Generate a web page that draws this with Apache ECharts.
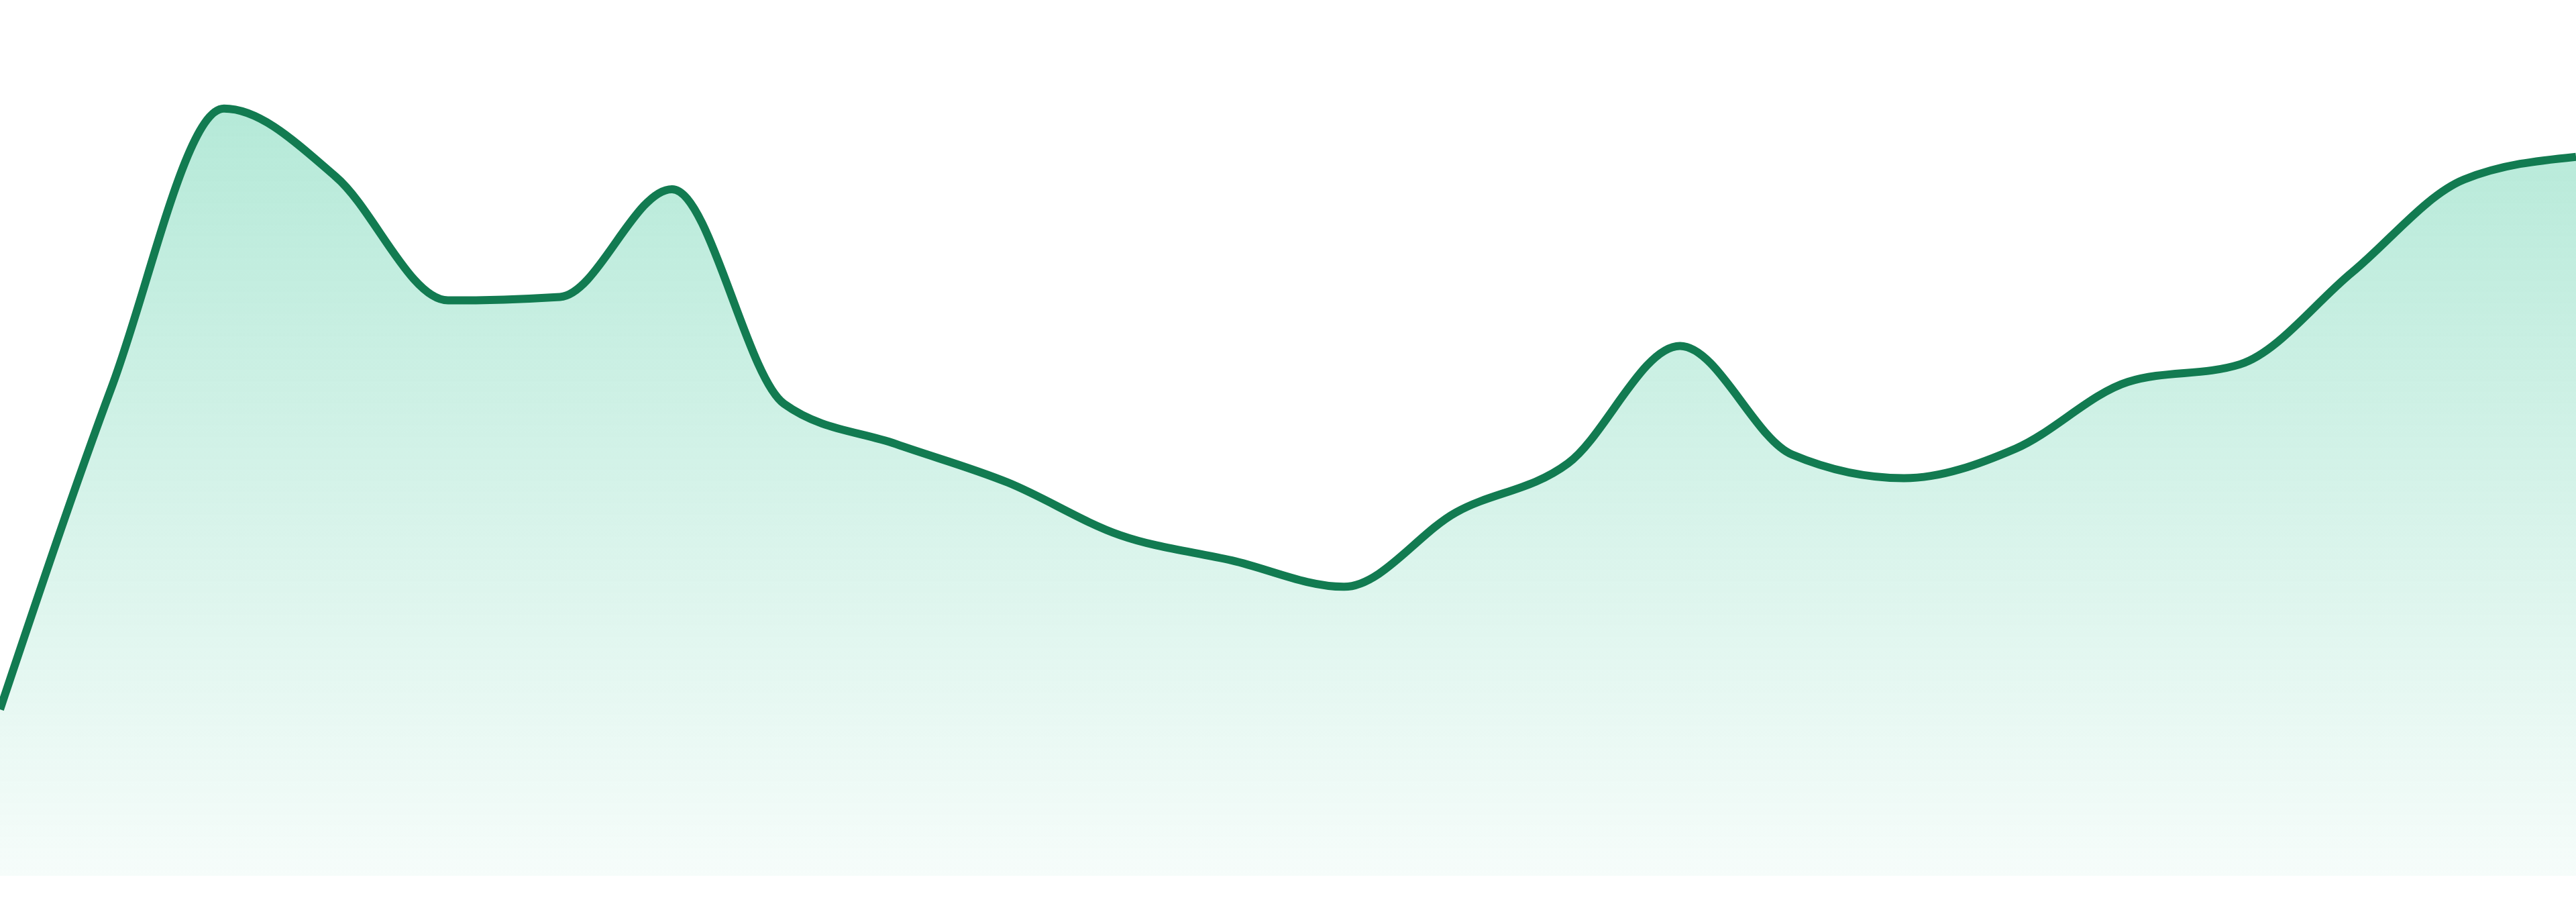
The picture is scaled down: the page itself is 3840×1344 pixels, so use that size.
<!DOCTYPE html>
<html lang="en">
<head>
    <meta charset="UTF-8">
    <title>Area</title>
    <script src="https://cdn.jsdelivr.net/npm/echarts@6/dist/echarts.min.js" charset="utf-8"></script>
    <style>
        html, body {margin: 0; padding: 0; background: #ffffff;}
        #main {width: 3840px; height: 1344px;}
    </style>
</head>
<body>
<div id="main"></div>
<script>
    // 24 points (y axis 0..100)
    var categories = ['1', '2', '3', '4', '5', '6', '7', '8', '9', '10', '11', '12',
        '13', '14', '15', '16', '17', '18', '19', '20', '21', '22', '23', '24'];
    var values = [19.0, 55.9, 87.6, 79.8, 65.7, 66.1, 78.4, 53.9, 49.3, 44.9, 38.9, 36.0,
        33.0, 41.5, 47.1, 60.5, 48.1, 45.4, 48.8, 56.4, 58.4, 68.9, 79.5, 82.1];
    var yMin = 0, yMax = 100;

    // monotone-x cubic (same as d3 curveMonotoneX) through pixel points
    function sign(v) { return v < 0 ? -1 : 1; }
    function monotonePath(pts) {
        var n = pts.length, i, s = [], t = [];
        for (i = 0; i < n - 1; i++) {
            s.push((pts[i + 1][1] - pts[i][1]) / (pts[i + 1][0] - pts[i][0]));
        }
        for (i = 1; i < n - 1; i++) {
            var h0 = pts[i][0] - pts[i - 1][0], h1 = pts[i + 1][0] - pts[i][0];
            var p = (s[i - 1] * h1 + s[i] * h0) / (h0 + h1);
            t[i] = (sign(s[i - 1]) + sign(s[i])) * Math.min(Math.abs(s[i - 1]), Math.abs(s[i]), 0.5 * Math.abs(p)) || 0;
        }
        t[0] = (3 * s[0] - t[1]) / 2;
        t[n - 1] = (3 * s[n - 2] - t[n - 2]) / 2;
        var d = 'M' + pts[0][0] + ' ' + pts[0][1];
        for (i = 0; i < n - 1; i++) {
            var dx = (pts[i + 1][0] - pts[i][0]) / 3;
            d += ' C' + (pts[i][0] + dx) + ' ' + (pts[i][1] + dx * t[i]) + ' '
                + (pts[i + 1][0] - dx) + ' ' + (pts[i + 1][1] - dx * t[i + 1]) + ' '
                + pts[i + 1][0] + ' ' + pts[i + 1][1];
        }
        return d;
    }

    var myChart = echarts.init(document.getElementById('main'));
    var option = {
        animation: false,
        grid: {
            top: 0,
            right: 0,
            left: 0,
            bottom: 39
        },
        xAxis: {
            type: 'category',
            data: categories,
            boundaryGap: false,
            show: false
        },
        yAxis: {
            type: 'value',
            min: yMin,
            max: yMax,
            show: false
        },
        series: [{
            type: 'custom',
            data: values.map(function (v, i) { return [i, v]; }),
            renderItem: function (params, api) {
                if (params.dataIndex !== 0) return null;
                var pts = values.map(function (v, i) { return api.coord([i, v]); });
                var base = api.coord([0, yMin])[1];
                var line = monotonePath(pts);
                var area = line + ' L' + pts[pts.length - 1][0] + ' ' + base + ' L' + pts[0][0] + ' ' + base + ' Z';
                return {
                    type: 'group',
                    children: [{
                        type: 'path',
                        shape: {pathData: area},
                        style: {
                            fill: new echarts.graphic.LinearGradient(0, 0, 0, 1, [{
                                offset: 0,
                                color: 'rgba(16,185,129,0.31)'
                            }, {
                                offset: 1,
                                color: 'rgba(16,185,129,0.04)'
                            }], false),
                            stroke: null
                        }
                    }, {
                        type: 'path',
                        shape: {pathData: line},
                        style: {
                            fill: null,
                            stroke: '#127b51',
                            lineWidth: 12
                        }
                    }]
                };
            }
        }]
    };

    myChart.setOption(option);
    window.addEventListener("resize", function () {
        myChart.resize();
    });
</script>
</body>
</html>
